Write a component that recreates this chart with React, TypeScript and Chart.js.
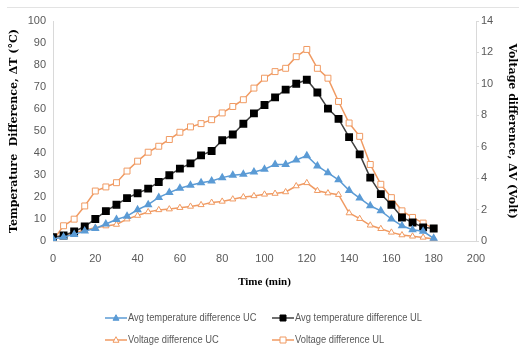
import { useEffect, useRef } from 'react';
import { Chart, registerables } from 'chart.js';

Chart.register(...registerables);

const times = [0, 5, 10, 15, 20, 25, 30, 35, 40, 45, 50, 55, 60, 65, 70, 75, 80, 85, 90, 95, 100, 105, 110, 115, 120, 125, 130, 135, 140, 145, 150, 155, 160, 165, 170, 175, 180];

const tempUC = [0.9, 1.8, 3.0, 4.5, 5.7, 7.7, 9.8, 11.3, 14.2, 16.5, 19.8, 22.0, 24.0, 25.3, 26.5, 27.3, 28.8, 29.9, 30.3, 31.4, 32.6, 34.8, 34.8, 36.8, 38.8, 34.1, 31.0, 27.8, 23.0, 19.5, 16.0, 13.7, 10.0, 6.9, 5.1, 4.4, 1.2];

const tempUL = [1.7, 2.5, 4.3, 6.6, 10.0, 13.6, 16.5, 19.5, 21.7, 23.8, 26.8, 29.9, 32.9, 35.3, 38.9, 40.9, 45.8, 48.4, 53.3, 58.0, 61.8, 65.3, 68.8, 71.5, 73.3, 67.5, 60.2, 55.5, 47.2, 39.4, 28.8, 21.3, 16.5, 10.7, 8.4, 6.2, 5.7];

const voltUC = [0.1, 0.3, 0.5, 0.7, 0.85, 0.95, 1.05, 1.39, 1.62, 1.85, 1.98, 2.03, 2.12, 2.2, 2.3, 2.45, 2.52, 2.66, 2.8, 2.87, 2.97, 3.02, 3.12, 3.5, 3.7, 3.2, 3.05, 2.95, 1.78, 1.42, 1.0, 0.78, 0.55, 0.38, 0.3, 0.23, 0.13];

const voltUL = [0.05, 0.97, 1.39, 2.23, 3.18, 3.44, 3.71, 4.45, 5.08, 5.65, 6.03, 6.46, 6.92, 7.26, 7.47, 7.72, 8.15, 8.56, 8.99, 9.73, 10.36, 10.78, 10.99, 11.73, 12.19, 10.99, 10.36, 8.88, 7.51, 6.66, 4.87, 3.61, 2.76, 1.92, 1.5, 1.14, 0.8];

const seriesLabels = [
  'Avg temperature difference UC',
  'Avg temperature difference UL',
  'Voltage difference UC',
  'Voltage difference UL',
];

const xTitle = 'Time (min)';
const yTitle = 'Temperature  Difference, \u0394T (\u00B0C)';
const y1Title = 'Voltage difference, \u0394V (Volt)';

const BLUE = '#5B9BD5';
const ORANGE = '#F09A62';
const TICK_FONT = "'Liberation Sans', sans-serif";
const TITLE_FONT = "'DejaVu Serif', serif";

const toPoints = (vals: number[]) => vals.map((v, i) => ({ x: times[i], y: v }));

function drawMarker(ctx: CanvasRenderingContext2D, style: string, x: number, y: number, r: number, fill: string, stroke: string) {
  ctx.save();
  ctx.beginPath();
  if (style === 'triangle') {
    ctx.moveTo(x, y - r * 1.1);
    ctx.lineTo(x + r, y + r * 0.75);
    ctx.lineTo(x - r, y + r * 0.75);
    ctx.closePath();
  } else {
    ctx.rect(x - r, y - r, 2 * r, 2 * r);
  }
  ctx.fillStyle = fill;
  ctx.fill();
  ctx.strokeStyle = stroke;
  ctx.lineWidth = 1;
  ctx.stroke();
  ctx.restore();
}

const gridLegend = {
  id: 'gridLegend',
  afterDraw(chart: any) {
    const ctx: CanvasRenderingContext2D = chart.ctx;
    const area = chart.chartArea;
    const colX = [area.left + 52, area.left + 219];
    const rowY = [318, 340];
    chart.data.datasets.forEach((ds: any, i: number) => {
      const x = colX[i % 2];
      const y = rowY[Math.floor(i / 2)];
      ctx.save();
      ctx.strokeStyle = ds.borderColor;
      ctx.lineWidth = 1.5;
      ctx.beginPath();
      ctx.moveTo(x, y);
      ctx.lineTo(x + 22, y);
      ctx.stroke();
      ctx.restore();
      drawMarker(ctx, ds.pointStyle, x + 11, y, 3, ds.pointBackgroundColor, ds.pointBorderColor);
      ctx.save();
      ctx.fillStyle = '#595959';
      ctx.font = `11px ${TICK_FONT}`;
      ctx.textBaseline = 'middle';
      ctx.textAlign = 'left';
      ctx.translate(x + 23, y);
      ctx.scale(0.85, 1);
      ctx.fillText(ds.label, 0, 0);
      ctx.restore();
    });
  },
};

export default function App() {
  const ref = useRef<HTMLCanvasElement>(null);

  useEffect(() => {
    const chart = new Chart(ref.current as HTMLCanvasElement, {
      type: 'line',
      data: {
        datasets: [
          {
            label: seriesLabels[0],
            data: toPoints(tempUC),
            yAxisID: 'y',
            borderColor: BLUE,
            backgroundColor: BLUE,
            pointBackgroundColor: BLUE,
            pointBorderColor: BLUE,
            pointStyle: 'triangle',
            pointRadius: 3.5,
            borderWidth: 1.5,
          },
          {
            label: seriesLabels[1],
            data: toPoints(tempUL),
            yAxisID: 'y',
            borderColor: '#404040',
            backgroundColor: '#000000',
            pointBackgroundColor: '#000000',
            pointBorderColor: '#000000',
            pointStyle: 'rect',
            pointRadius: 4.5,
            borderWidth: 1.5,
          },
          {
            label: seriesLabels[2],
            data: toPoints(voltUC),
            yAxisID: 'y1',
            borderColor: ORANGE,
            backgroundColor: '#ffffff',
            pointBackgroundColor: '#ffffff',
            pointBorderColor: ORANGE,
            pointStyle: 'triangle',
            pointRadius: 3.5,
            pointBorderWidth: 1,
            borderWidth: 1.5,
          },
          {
            label: seriesLabels[3],
            data: toPoints(voltUL),
            yAxisID: 'y1',
            borderColor: ORANGE,
            backgroundColor: '#ffffff',
            pointBackgroundColor: '#ffffff',
            pointBorderColor: ORANGE,
            pointStyle: 'rect',
            pointRadius: 4.2,
            pointBorderWidth: 1,
            borderWidth: 1.5,
          },
        ],
      },
      options: {
        responsive: false,
        animation: false,
        layout: { padding: { left: 0, right: 0, top: 21, bottom: 54 } },
        plugins: {
          legend: { display: false },
          tooltip: { enabled: false },
        },
        scales: {
          x: {
            type: 'linear',
            min: 0,
            max: 200,
            ticks: { stepSize: 20, color: '#595959', font: { size: 11, family: TICK_FONT }, padding: 11, maxRotation: 0 },
            grid: { display: false, drawTicks: false },
            border: { color: '#d9d9d9' },
            title: {
              display: true,
              text: xTitle,
              color: '#000',
              font: { size: 11, weight: 'bold', family: "'Liberation Serif', serif" },
              padding: { top: 0, bottom: 2 },
            },
            afterFit: (s: any) => { s.height = 50; },
          },
          y: {
            position: 'left',
            min: 0,
            max: 100,
            ticks: { stepSize: 10, color: '#595959', font: { size: 11, family: TICK_FONT }, padding: 7 },
            grid: { display: false, drawTicks: false },
            border: { color: '#d9d9d9' },
            title: {
              display: true,
              text: yTitle,
              color: '#000',
              font: { size: 11, weight: 'bold', family: TITLE_FONT },
              padding: { top: 8, bottom: 0 },
            },
            afterFit: (s: any) => { s.width = 53; },
          },
          y1: {
            position: 'right',
            min: 0,
            max: 14,
            ticks: { stepSize: 2, color: '#595959', font: { size: 11, family: TICK_FONT }, padding: 2 },
            grid: { display: true, drawOnChartArea: false, drawTicks: true, tickLength: 3, color: '#d9d9d9' },
            border: { color: '#d9d9d9' },
            title: {
              display: true,
              text: y1Title,
              color: '#000',
              font: { size: 11, weight: 'bold', family: TITLE_FONT },
              padding: { top: 1, bottom: 0 },
            },
            afterFit: (s: any) => { s.width = 43; },
          },
        },
      },
      plugins: [gridLegend],
    } as any);
    return () => chart.destroy();
  }, []);

  return (
    <div style={{ position: 'fixed', left: 0, top: 0, width: 519, height: 345, background: '#ffffff' }}>
      <canvas ref={ref} width={519} height={345} style={{ display: 'block' }} />
      <div style={{ position: 'absolute', left: 7, right: 0, top: 7, height: 0, borderTop: '1px solid #e3e3e3' }} />
    </div>
  );
}
